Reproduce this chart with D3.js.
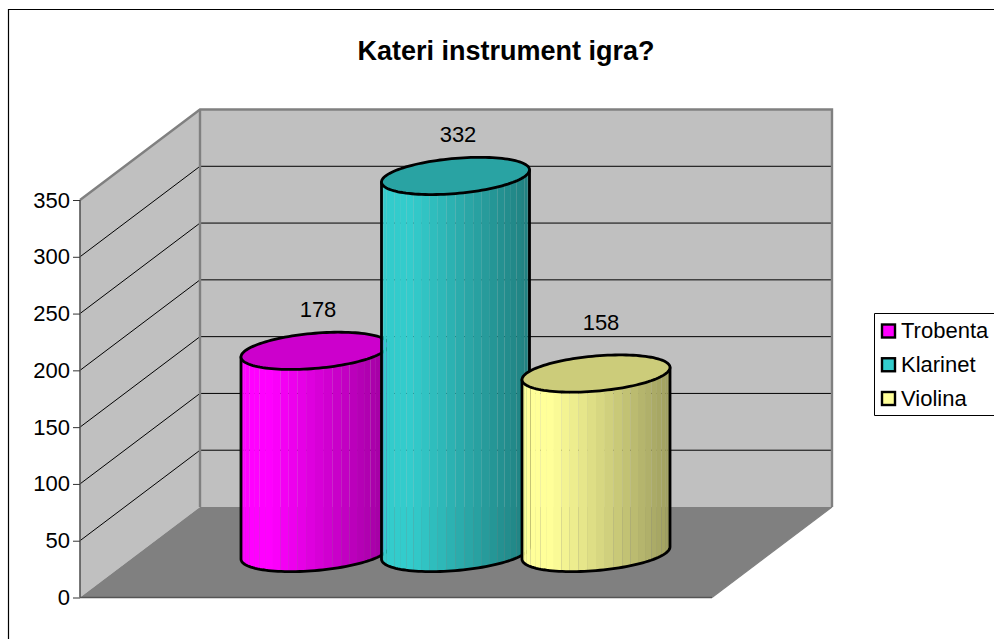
<!DOCTYPE html>
<html><head><meta charset="utf-8">
<script src="https://cdnjs.cloudflare.com/ajax/libs/d3/7.8.5/d3.min.js"></script>
<style>html,body{margin:0;padding:0;background:#fff}svg{display:block}text{font-family:"Liberation Sans",Arial,sans-serif;fill:#000}</style>
</head><body><svg id="c" width="994" height="639"></svg>
<script>
const chartTitle = "Kateri instrument igra?";
const categories = ["Trobenta", "Klarinet", "Violina"];
const values = [178, 332, 158];
const colors = ["#FF00FF", "#33CCCC", "#FFFF99"];
const tickValues = [0, 50, 100, 150, 200, 250, 300, 350];

const labelOffsets = [[3, -41], [2.5, -41], [5, -51]];
const W = 994, H = 639;
const wall = {x0: 80, x1: 712, dx: 120, dy: -90.5};
const svg = d3.select("#c");
const y = d3.scaleLinear().domain([0, 350]).range([597.5, 200]);
const cx = d3.scalePoint().domain(categories).range([315, 596]);
const barDY = -44.5, a = 74, s = 6.1, c = 17.6, facets = 26;

// outer frame
svg.append("path").attr("d", `M8.5,${H}V9.5H${W}`).attr("fill", "none").attr("stroke", "#000").attr("stroke-width", 1.2);

svg.append("text").attr("x", 506).attr("y", 59.5).attr("text-anchor", "middle")
  .attr("font-size", 27).attr("font-weight", "bold").text(chartTitle);

// walls and floor
const line = d3.line();
const bx0 = wall.x0 + wall.dx, bx1 = wall.x1 + wall.dx;
svg.append("path").attr("fill", "#C0C0C0").attr("d", line([[wall.x0, y(0)], [wall.x0, y(350)], [bx0, y(350) + wall.dy], [bx1, y(350) + wall.dy], [bx1, y(0) + wall.dy], [bx0, y(0) + wall.dy]]) + "Z");
svg.append("path").attr("fill", "#808080").attr("d", line([[wall.x0, y(0)], [wall.x1, y(0)], [bx1, y(0) + wall.dy], [bx0, y(0) + wall.dy]]) + "Z");

// gridlines
svg.append("g").selectAll("path").data(tickValues.filter(v => v > 0 && v < 350)).join("path")
  .attr("fill", "none").attr("stroke", "#000").attr("stroke-width", 1)
  .attr("d", v => line([[wall.x0, y(v)], [bx0, y(v) + wall.dy], [bx1, y(v) + wall.dy]]));

// wall edges
svg.append("path").attr("fill", "none").attr("stroke", "#808080").attr("stroke-width", 2.4)
  .attr("d", line([[wall.x0, y(350)], [bx0, y(350) + wall.dy], [bx1, y(350) + wall.dy], [bx1, y(0) + wall.dy]]));
svg.append("path").attr("fill", "none").attr("stroke", "#808080").attr("stroke-width", 2.4)
  .attr("d", line([[bx0, y(350) + wall.dy], [bx0, y(0) + wall.dy]]));
svg.append("path").attr("fill", "none").attr("stroke", "#808080").attr("stroke-width", 1.2)
  .attr("d", line([[bx1, y(0) + wall.dy], [wall.x1, y(0)]]));
svg.append("path").attr("fill", "none").attr("stroke", "#555").attr("stroke-width", 1.6)
  .attr("d", line([[wall.x0, y(0)], [wall.x1, y(0)]]));
svg.append("path").attr("fill", "none").attr("stroke", "#555").attr("stroke-width", 1.6)
  .attr("d", line([[wall.x0, y(350)], [wall.x0, y(0)]]));

// axis
const axis = d3.axisLeft(y).tickValues(tickValues).tickSize(7).tickPadding(3);
const ag = svg.append("g").attr("transform", `translate(${wall.x0},0)`).call(axis);
ag.select(".domain").remove();
ag.selectAll(".tick line").attr("stroke", "#333").attr("stroke-width", 1);
ag.selectAll(".tick text").attr("font-size", 22).attr("font-family", '"Liberation Sans",Arial,sans-serif').attr("fill", "#000");

// cylinders
const ellipsePt = (x0, y0, t) => [x0 + a * Math.cos(t), y0 - s * Math.cos(t) + c * Math.sin(t)];
const ring = (x0, y0, from, to, n) => d3.range(n + 1).map(i => ellipsePt(x0, y0, from + (to - from) * i / n));
const defs = svg.append("defs");

categories.forEach((cat, i) => {
  const x0 = cx(cat), yTop = y(values[i]) + barDY, yBot = y(0) + barDY;
  const base = d3.rgb(colors[i]);
  const body = line([...ring(x0, yBot, Math.PI, 0, 60), ellipsePt(x0, yTop, 0), ellipsePt(x0, yTop, Math.PI)]) + "Z";
  defs.append("clipPath").attr("id", "b" + i).append("path").attr("d", body);
  const g = svg.append("g");
  const strips = g.append("g").attr("clip-path", `url(#b${i})`);
  const edges = d3.range(facets + 1).map(k => x0 - a * Math.cos(Math.PI * k / facets));
  const shade = u => { const f = u < 0.2 ? 1 : 1 - 0.38 * (u - 0.2) / 0.8; return d3.rgb(base.r * f, base.g * f, base.b * f); };
  strips.selectAll("rect").data(d3.pairs(edges)).join("rect")
    .attr("x", d => d[0]).attr("width", d => d[1] - d[0])
    .attr("y", yTop - 30).attr("height", yBot - yTop + 60)
    .attr("fill", d => shade(((d[0] + d[1]) / 2 - (x0 - a)) / (2 * a)));
  g.append("path").attr("d", body).attr("fill", "none").attr("stroke", "#000").attr("stroke-width", 2.8).attr("stroke-linejoin", "round");
  g.append("path").attr("d", line(ring(x0, yTop, 0, 2 * Math.PI, 120)) + "Z")
    .attr("fill", d3.rgb(base.r * .8, base.g * .8, base.b * .8)).attr("stroke", "#000").attr("stroke-width", 2.8);
  svg.append("text").attr("x", x0 + labelOffsets[i][0]).attr("y", yTop + labelOffsets[i][1] + 7.5)
    .attr("text-anchor", "middle").attr("font-size", 22).text(values[i]);
});

// legend
const lg = svg.append("g");
lg.append("path").attr("d", `M${W},313.5H874.5V415.5H${W}`).attr("fill", "#fff").attr("stroke", "#000").attr("stroke-width", 1);
const ly = d3.scalePoint().domain(categories).range([331, 398.5]);
const row = lg.selectAll("g").data(categories).join("g").attr("transform", d => `translate(0,${ly(d)})`);
row.append("rect").attr("x", 882).attr("y", -6.5).attr("width", 13).attr("height", 13)
  .attr("fill", (d, i) => colors[i]).attr("stroke", "#000").attr("stroke-width", 2.4);
row.append("text").attr("x", 901).attr("y", 7).attr("font-size", 22).text(d => d);
</script></body></html>
